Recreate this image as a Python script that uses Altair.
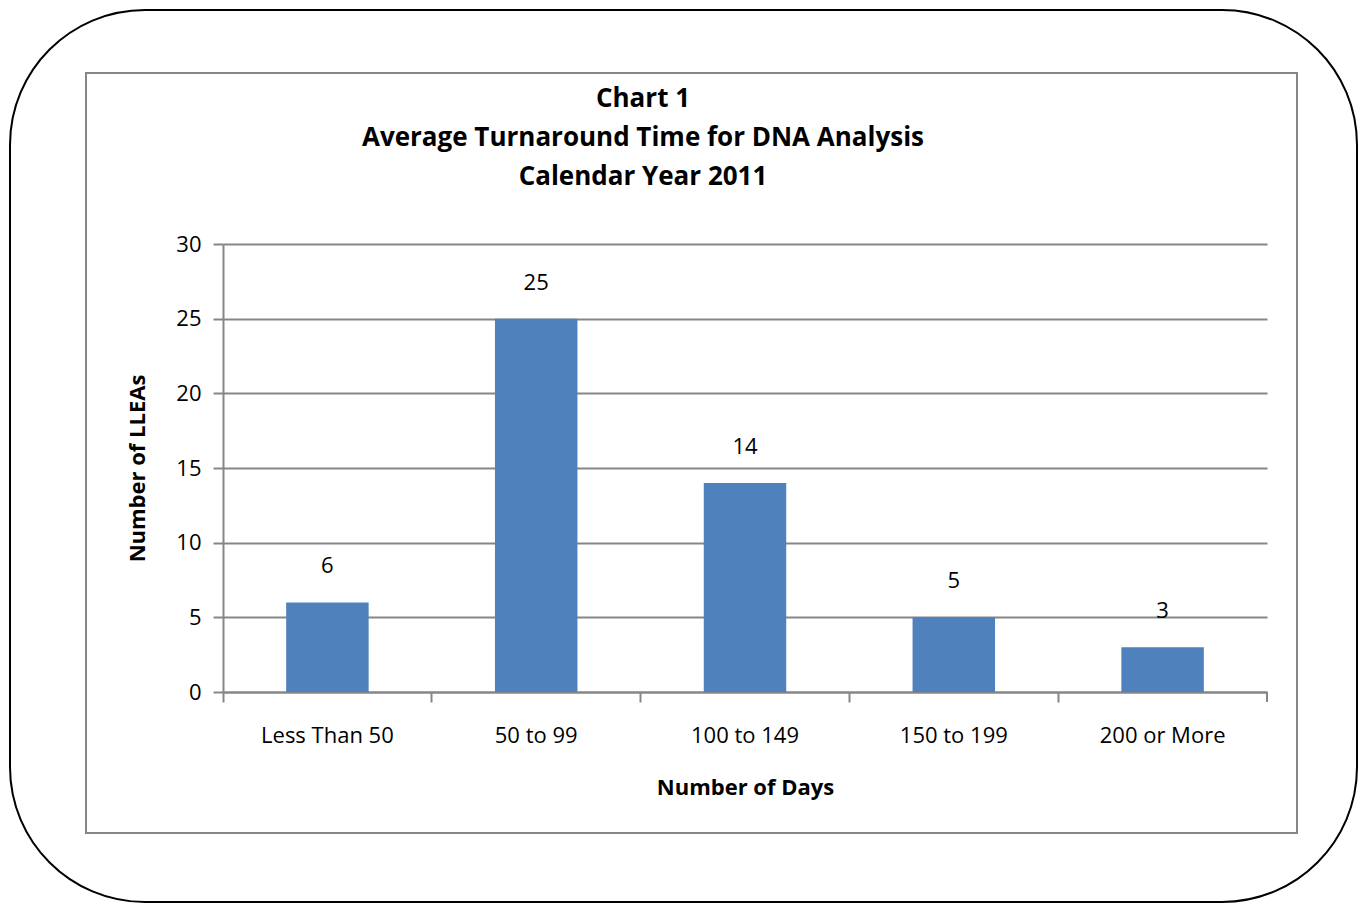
import altair as alt
import pandas as pd

categories = ["Less Than 50", "50 to 99", "100 to 149", "150 to 199", "200 or More"]
values = [6, 25, 14, 5, 3]
title_lines = ["Chart 1", "Average Turnaround Time for DNA Analysis", "Calendar Year 2011"]
y_ticks = [0, 5, 10, 15, 20, 25, 30]

df = pd.DataFrame({"cat": categories, "val": values})

FONT = "Open Sans"
GRAY = "#868686"
BAR = "#4F81BD"
W, H = 1044, 448  # plot area
OX, OY = 223, 244  # plot origin on page

x = alt.X("cat:N", sort=categories, title="Number of Days",
          scale=alt.Scale(paddingInner=0, paddingOuter=0),
          axis=alt.Axis(labelAngle=0, bandPosition=0,
                        labelFontSize=22, labelColor="black", labelFont=FONT,
                        labelPadding=23, tickSize=10, tickColor=GRAY, tickWidth=2,
                        domainColor=GRAY, domainWidth=2,
                        titleFont=FONT, titleFontSize=22, titleFontWeight="bold",
                        titleColor="black", titlePadding=31))
y = alt.Y("val:Q", title="Number of LLEAs",
          scale=alt.Scale(domain=[0, 30], nice=False),
          axis=alt.Axis(values=y_ticks, labelFontSize=22, labelColor="black", labelFont=FONT,
                        labelPadding=12, tickSize=10, tickColor=GRAY, tickWidth=2,
                        domainColor=GRAY, domainWidth=2, grid=True, gridColor=GRAY, gridWidth=2,
                        titleFont=FONT, titleFontSize=22, titleFontWeight="bold",
                        titleColor="black", titlePadding=26))

frame_df = pd.DataFrame({"k": [0]})
outer = alt.Chart(frame_df).mark_rect(
    filled=False, stroke="black", strokeWidth=2, cornerRadius=135
).encode(x=alt.value(10 - OX), x2=alt.value(1357 - OX),
         y=alt.value(10 - OY), y2=alt.value(902 - OY))
inner = alt.Chart(frame_df).mark_rect(
    filled=False, stroke=GRAY, strokeWidth=2
).encode(x=alt.value(86 - OX), x2=alt.value(1297 - OX),
         y=alt.value(73 - OY), y2=alt.value(833 - OY))

title_df = pd.DataFrame({"t": ["\n".join(title_lines)]})
title = alt.Chart(title_df).mark_text(
    font=FONT, fontSize=26, fontWeight="bold", color="black", baseline="middle", align="center",
    lineBreak="\n", lineHeight=39
).encode(text="t:N", x=alt.value(643 - OX), y=alt.value(99 - OY))

bars = alt.Chart(df).mark_bar(color=BAR, width=alt.RelativeBandSize(0.395)).encode(x=x, y=y)
labels = alt.Chart(df).mark_text(font=FONT, fontSize=22, color="black", dy=-36, baseline="middle").encode(
    x=alt.X("cat:N", sort=categories), y="val:Q", text="val:Q")
end_tick = alt.Chart(frame_df).mark_rule(color=GRAY, strokeWidth=2).encode(
    x=alt.value(W), y=alt.value(H), y2=alt.value(H + 10))

chart = alt.layer(outer, inner, title, bars, labels, end_tick).properties(
    width=W, height=H,
    autosize=alt.AutoSizeParams(type="none"),
    padding={"left": OX - 8, "top": OY - 8, "right": 1351 - (OX - 8) - W, "bottom": 896 - (OY - 8) - H},
).configure_view(stroke=None)

chart.save("out.html", embed_options={"renderer": "svg", "actions": False})
